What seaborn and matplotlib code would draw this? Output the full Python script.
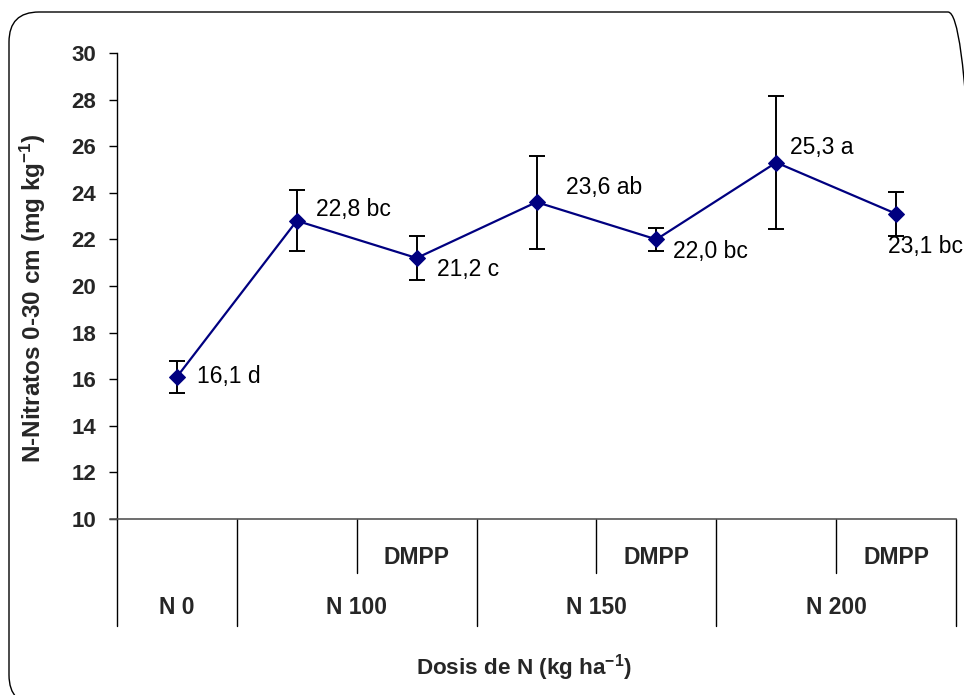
import numpy as np
import pandas as pd
import matplotlib
matplotlib.use("Agg")
import matplotlib.pyplot as plt
from matplotlib.patches import FancyBboxPatch
import matplotlib.transforms as mtransforms
import seaborn as sns

# Nitrate-N in 0-30 cm soil layer by N dose and inhibitor
groups = ["N 0", "N 100", "N 150", "N 200"]
treatments = ["", "", "DMPP", "", "DMPP", "", "DMPP"]
nitrate = [16.1, 22.8, 21.2, 23.6, 22.0, 25.3, 23.1]
sd = [0.7, 1.3, 0.95, 2.0, 0.5, 2.85, 0.95]
letters = ["d", "bc", "c", "ab", "bc", "a", "bc"]
y_ticks = [10, 12, 14, 16, 18, 20, 22, 24, 26, 28, 30]

# label offsets (pixels) from each point: left edge / baseline
label_dx = [20, 19, 20, 30, 17, 14, -8]
label_dy = [-6, 5, -18, 8, -19, 9, -39]

sns.set_style("white")
plt.rcParams["font.family"] = ["Liberation Sans", "DejaVu Sans"]
plt.rcParams["mathtext.fontset"] = "custom"
plt.rcParams["mathtext.rm"] = "Liberation Sans:bold"
plt.rcParams["mathtext.default"] = "rm"

W, H, DPI = 964, 695, 100
fig = plt.figure(figsize=(W / DPI, H / DPI), dpi=DPI)
fig.patch.set_facecolor("white")

ax_l, ax_r, ax_t, ax_b = 117, 956, 53, 519
ax = fig.add_axes([ax_l / W, 1 - ax_b / H, (ax_r - ax_l) / W, (ax_b - ax_t) / H])

df = pd.DataFrame({"pos": np.arange(len(nitrate)), "nitrate": nitrate, "sd": sd})

ax.errorbar(df["pos"], df["nitrate"], yerr=df["sd"], fmt="none", ecolor="black",
            elinewidth=1.4, capsize=5.5, capthick=1.4, zorder=2)
sns.lineplot(data=df, x="pos", y="nitrate", ax=ax, color="#000080", linewidth=1.6,
             marker="D", markersize=8.5, markeredgecolor="#000080",
             markerfacecolor="#000080", zorder=3)

for i, (v, let) in enumerate(zip(nitrate, letters)):
    txt = f"{v:.1f}".replace(".", ",") + " " + let
    ax.annotate(txt, (i, v), xytext=(label_dx[i], label_dy[i]), textcoords="offset pixels",
                ha="left", va="baseline", fontsize=16.5, color="black",
                annotation_clip=False, zorder=4)

ax.set_xlim(-0.5, len(nitrate) - 0.5)
ax.set_ylim(10, 30)
ax.set_yticks(y_ticks)
ax.set_yticklabels([str(t) for t in y_ticks], fontweight="bold", fontsize=16)
ax.set_xticks([])
ax.set_xlabel("")
ax.set_ylabel("")
ax.tick_params(axis="y", direction="out", length=6, width=1, color="black", pad=9, left=True)
for s in ["top", "right"]:
    ax.spines[s].set_visible(False)
ax.spines["left"].set_color("black")
ax.spines["bottom"].set_color("#555555")
ax.spines["left"].set_linewidth(1.0)
ax.spines["bottom"].set_linewidth(1.2)

# category table under the axis
trans = mtransforms.blended_transform_factory(ax.transData, ax.transAxes)
h_px = ax_b - ax_t
long_y = -(626 - ax_b) / h_px
short_y = -(573 - ax_b) / h_px
for x in [-0.5, 0.5, 2.5, 4.5, 6.5]:
    ax.plot([x, x], [0, long_y], transform=trans, color="black", lw=1.0, clip_on=False)
for x in [1.5, 3.5, 5.5]:
    ax.plot([x, x], [0, short_y], transform=trans, color="black", lw=1.0, clip_on=False)
ax.plot([-0.5 - 7 / 119.7, -0.5], [0, 0], transform=trans, color="#555555", lw=1.2, clip_on=False)

dmpp_y = -(557 - ax_b) / h_px
group_y = -(608 - ax_b) / h_px
for i, t in enumerate(treatments):
    if t:
        ax.text(i, dmpp_y, t, transform=trans, ha="center", va="center",
                fontsize=16.5, fontweight="bold")
group_pos = [0, 1.5, 3.5, 5.5]
for g, x in zip(groups, group_pos):
    ax.text(x, group_y, g, transform=trans, ha="center", va="center",
            fontsize=16.5, fontweight="bold")

fig.text(524 / W, 1 - 668 / H, "Dosis de N (kg ha$^{-1}$)", ha="center", va="center",
         fontsize=16.2, fontweight="bold")
fig.text(33 / W, 1 - 298 / H, "N-Nitratos 0-30 cm (mg kg$^{-1}$)", ha="center", va="center",
         rotation=90, fontsize=17.5, fontweight="bold")

# rounded frame around the chart
frame = FancyBboxPatch((0.09, -0.1), 9.69, 6.93,
                       boxstyle="round,pad=0,rounding_size=0.3",
                       transform=fig.dpi_scale_trans, fill=False,
                       edgecolor="black", linewidth=1.0, zorder=0)
fig.patches.append(frame)

fig.savefig("out.png", dpi=DPI, facecolor="white")
